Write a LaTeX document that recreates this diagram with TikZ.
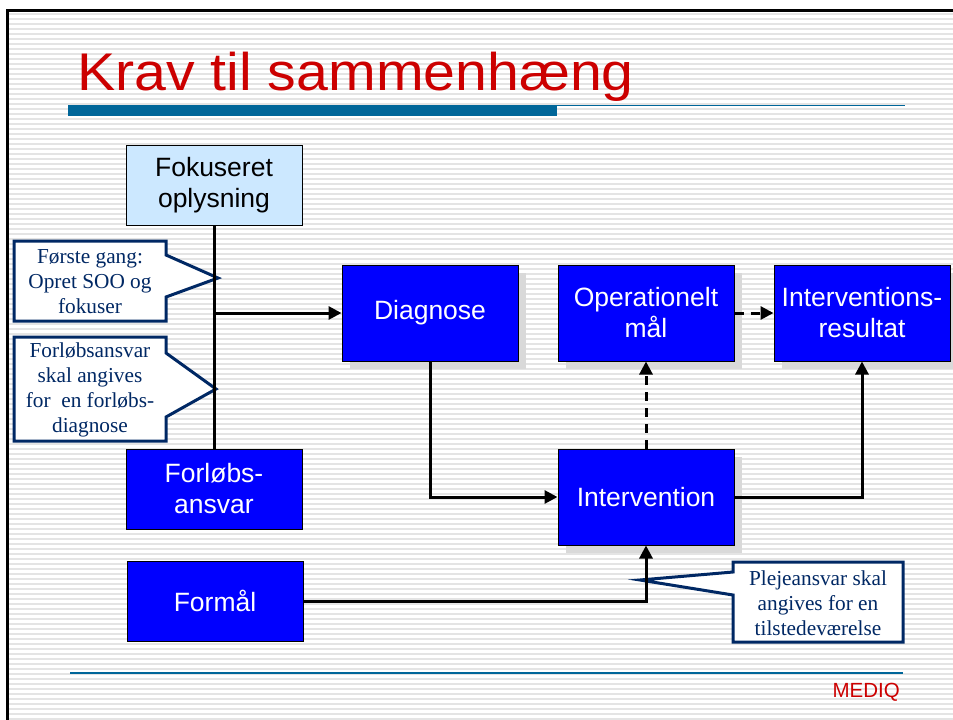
\documentclass[tikz,border=0pt]{standalone}
\usepackage{fontspec}
\setmainfont{Liberation Sans}
\newfontfamily\tnr{Liberation Serif}
\newfontfamily\titlefont[FakeStretch=1.08]{Liberation Sans}
\usetikzlibrary{arrows.meta,shadows}
\definecolor{slidered}{RGB}{204,0,0}
\definecolor{barblue}{RGB}{0,102,153}
\definecolor{boxblue}{RGB}{0,0,255}
\definecolor{lightbox}{RGB}{204,232,255}
\definecolor{navy}{RGB}{0,40,100}
\definecolor{stripegray}{RGB}{228,228,228}
\tikzset{
  stripe/.style={stripegray,line width=2pt},
  bluebox/.style={draw=black,line width=1pt,fill=boxblue,text=white,inner sep=0pt,
    minimum width=176pt,align=center,font=\fontsize{26.5}{31}\selectfont},
  shadowed/.style={drop shadow={shadow xshift=8pt,shadow yshift=-8pt,fill=black!15,opacity=1}},
  lightnode/.style={draw=black,line width=1pt,fill=lightbox,text=black,inner sep=0pt,
    minimum width=176pt,minimum height=80pt,align=center,font=\fontsize{26.5}{31}\selectfont},
  calltext/.style={inner sep=0pt,align=center,text=navy,font=\tnr\fontsize{21.3}{25}\selectfont},
  callframe/.style={inner sep=0pt,outer sep=0pt},
  callout/.style={draw=navy,fill=white,line width=3pt,line join=miter},
  conn/.style={line width=3pt,-{Triangle[length=13pt,width=13pt]}},
  plain/.style={line width=3pt},
  dconn/.style={conn,dash pattern=on 9pt off 7pt}
}
\begin{document}
\begin{tikzpicture}[x=1pt,y=-1pt]
\useasboundingbox (0,0) rectangle (953,720);
\fill[white] (0,0) rectangle (953,720);
% stripes
\foreach \y in {14,19,...,720} \draw[stripe] (9,\y) -- (953,\y);
% frame
\draw[line width=3pt] (7.5,720) -- (7.5,10.5) -- (953,10.5);
% title
\node[anchor=base west,inner sep=0pt,text=slidered,font=\titlefont\fontsize{53}{60}\selectfont] (title) at (77,90) {Krav til sammenhæng};
\fill[barblue] (68,105) rectangle (557,116);
\draw[barblue,line width=1.5pt] (557,105.5) -- (905,105.5);
\draw[barblue,line width=1.2pt] (70,673) -- (903,673);
\node[anchor=base east,inner sep=0pt,text=slidered,font=\fontsize{20.5}{24}\selectfont] (mediq) at (900,697) {MEDIQ};

% callout frames
\node[callframe,minimum width=152pt,minimum height=80pt] (c1) at (90,281) {};
\node[callframe,minimum width=152pt,minimum height=104pt] (c2) at (90,389) {};
\node[callframe,minimum width=170pt,minimum height=80pt] (c3) at (818,602) {};
\coordinate (t1) at (218,278);
\coordinate (t2) at (216,389);
\coordinate (t3) at (640,580);
\draw[callout] (c1.north west) -- (c1.north east) -- ([yshift=-14pt]c1.north east) -- (t1) -- ([yshift=-56pt]c1.north east) -- (c1.south east) -- (c1.south west) -- cycle;
\draw[callout] (c2.north west) -- (c2.north east) -- ([yshift=-16pt]c2.north east) -- (t2) -- ([yshift=-80pt]c2.north east) -- (c2.south east) -- (c2.south west) -- cycle;
\draw[callout] (c3.north west) -- (c3.north east) -- (c3.south east) -- (c3.south west) -- ([yshift=-33pt]c3.north west) -- (t3) -- ([yshift=-10pt]c3.north west) -- cycle;
\node[calltext] (c1t) at ([yshift=-1pt]c1) {Første gang:\\Opret SOO og\\fokuser};
\node[calltext] (c2t) at ([yshift=-1pt]c2) {Forløbsansvar\\skal angives\\for\ \ en forløbs-\\diagnose};
\node[calltext] (c3t) at ([yshift=-1pt]c3) {Plejeansvar skal\\angives for en\\tilstedeværelse};

% boxes
\node[lightnode] (fok) at (214,185) {Fokuseret\\oplysning};
\node[bluebox,shadowed,minimum height=96pt] (diag) at (430,313) {Diagnose};
\node[bluebox,shadowed,minimum height=96pt] (opm) at (646,313) {Operationelt\\mål};
\node[bluebox,shadowed,minimum height=96pt] (ires) at (862,313) {Interventions-\\resultat};
\node[bluebox,minimum height=80pt] (forl) at (214,489) {Forløbs-\\ansvar};
\node[bluebox,minimum height=80pt] (form) at (215,601) {Formål};
\node[bluebox,shadowed,minimum height=96pt] (intv) at (646,497) {Intervention};

% connectors
\draw[plain] (fok.south) -- (forl.north);
\draw[conn] (fok.south |- diag.west) -- (diag.west);
\draw[conn] (diag.south) |- (intv.west);
\draw[dconn] (intv.north) -- (opm.south);
\draw[dconn] (opm.east) -- (ires.west);
\draw[conn] (intv.east) -| (ires.south);
\draw[conn] (form.east) -| (intv.south);
\end{tikzpicture}
\end{document}
